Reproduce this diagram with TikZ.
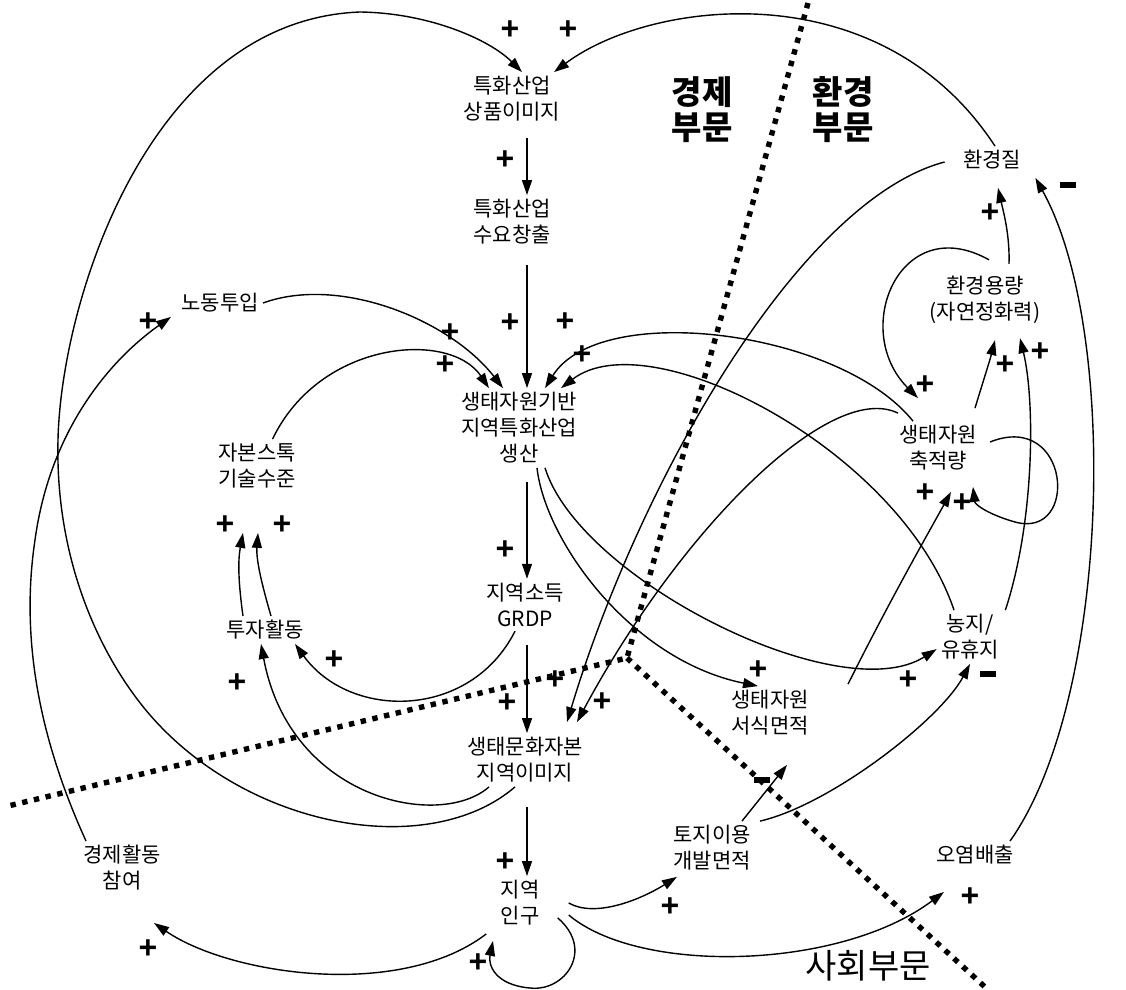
\documentclass[tikz,border=0pt]{standalone}
\usepackage{fontspec}
\newfontfamily\krfont{Noto Sans CJK KR}
\newfontfamily\signfont{Liberation Sans}
\usetikzlibrary{arrows.meta, calc, positioning}
\tikzset{factor/.style={align=center, inner sep=2pt, font=\krfont\fontsize{10.5}{13}\selectfont}}
\tikzset{sector/.style={align=center, inner sep=1pt, font=\krfont\bfseries\fontsize{16.5}{17.5}\selectfont}}
\tikzset{sectorplain/.style={sector, font=\krfont\fontsize{17}{17.5}\selectfont}}
\tikzset{plus/.style={inner sep=0pt, font=\signfont\bfseries\fontsize{16}{16}\selectfont}}
\tikzset{minus/.style={inner sep=0pt}}
\tikzset{edge/.style={draw, line width=0.7pt, -{Triangle[length=7.5pt, width=5pt]}}}
\tikzset{border/.style={draw, line width=2.7pt, dash pattern=on 2.7pt off 3.3pt}}
\newcommand{\minusbar}{\rule{8pt}{2.8pt}}

\begin{document}
\begin{tikzpicture}[x=0.5pt, y=-0.5pt]
        \useasboundingbox (0, 0) rectangle (1126, 990);
        \begin{scope}
            \coordinate (Btop) at (808, 3);
            \coordinate (Jn) at (627, 658);
            \coordinate (Bleft) at (8, 806);
            \coordinate (Bright) at (985, 987);
            \draw [border] (Btop) -- (Jn) -- (Bleft);
            \draw [border] (Jn) -- (Bright);

            \node[factor] (Nimage) at (512, 99) {특화산업\\상품이미지};
            \node[factor] (Ndemand) at (512, 222) {특화산업\\수요창출};
            \node[factor] (Nlabour) at (220, 303) {노동투입};
            \node[factor] (Nprod) at (519, 428) {생태자원기반\\지역특화산업\\생산};
            \node[factor] (Ncapital) at (257, 466) {자본스톡\\기술수준};
            \node[factor] (Nincome) at (525, 605) {지역소득\\GRDP};
            \node[factor] (Ninvest) at (265, 630) {투자활동};
            \node[factor] (Neco) at (525, 760) {생태문화자본\\지역이미지};
            \node[factor] (Npart) at (122, 868) {경제활동\\참여};
            \node[factor] (Npop) at (520, 903) {지역\\인구};
            \node[factor] (Nland) at (712, 848) {토지이용\\개발면적};
            \node[factor] (Npoll) at (975, 855) {오염배출};
            \node[factor] (Nhabitat) at (770, 713) {생태자원\\서식면적};
            \node[factor] (Nfarm) at (970, 637) {농지/\\유휴지};
            \node[factor] (Nstock) at (938, 448) {생태자원\\축적량};
            \node[factor] (Ncapacity) at (985, 300) {환경용량\\(자연정화력)};
            \node[factor] (Nenv) at (992, 160) {환경질};

            \node[sector] (Secon) at (702, 110) {경제\\부문};
            \node[sector] (Senv) at (843, 110) {환경\\부문};
            \node[sectorplain] (Ssoc) at (868, 966) {사회부문};

            \draw [edge] ([xshift=-5pt]Neco.south) .. controls (430, 860) and (250, 830) .. (150, 715) .. controls (100, 657) and (55, 560) .. (58, 440) .. controls (61, 300) and (150, 20) .. (360, 12) .. controls (430, 13) and (490, 40) .. ([xshift=5pt]Nimage.north);
            \draw [edge] ([xshift=1.5pt]Nenv.north) .. controls (880, -30) and (650, 0) .. ([xshift=21pt]Nimage.north);
            \draw [edge, shorten <=6pt] ([xshift=7.5pt]Nimage.south) -- ([xshift=7.5pt]Ndemand.north);
            \draw [edge, shorten <=8pt] ([xshift=7.5pt]Ndemand.south) -- ([xshift=4pt]Nprod.north);
            \draw [edge] (Nlabour.east) .. controls (340, 275) and (450, 320) .. ([xshift=-8pt]Nprod.north);
            \draw [edge] (Ncapital.60) .. controls (320, 340) and (450, 330) .. ([xshift=-15pt]Nprod.north);
            \draw [edge] ([xshift=-12.5pt]Nstock.north) .. controls (840, 330) and (600, 300) .. ([xshift=13pt]Nprod.north);
            \draw [edge] ([xshift=-8pt]Nfarm.north) .. controls (900, 450) and (650, 320) .. ([xshift=21pt]Nprod.north);

            \draw [edge, shorten <=7pt] ([xshift=4pt]Nprod.south) -- ([xshift=1pt]Nincome.north);
            \draw [edge] ([xshift=9pt]Nprod.south) .. controls (545, 540) and (630, 660) .. ([xshift=-6pt]Nhabitat.north);
            \draw [edge] ([xshift=13pt]Nprod.south) .. controls (580, 580) and (840, 710) .. (Nfarm.200);
            \draw [edge, shorten <=7pt] ([xshift=1pt]Nincome.south) -- ([xshift=1pt]Neco.north);
            \draw [edge] ([xshift=-5pt]Nincome.south) .. controls (470, 720) and (350, 720) .. ([xshift=15pt]Ninvest.south);
            \draw [edge] ([xshift=-18pt]Neco.south) .. controls (440, 830) and (290, 800) .. ([xshift=-2pt]Ninvest.south);
            \draw [edge] ([xshift=-11pt]Ninvest.north) .. controls (238, 580) and (238, 560) .. ([xshift=-7pt, yshift=-20pt]Ncapital.south);
            \draw [edge] ([xshift=3pt]Ninvest.north) .. controls (262, 585) and (256, 560) .. ([xshift=0.5pt, yshift=-20pt]Ncapital.south);
            \draw [edge] ([xshift=-18pt]Npart.north) .. controls (40, 740) and (20, 640) .. (35, 540) .. controls (50, 430) and (110, 360) .. ([xshift=-3pt]Nlabour.south west);

            \draw [edge, shorten <=10pt] ([xshift=1pt]Neco.south) -- ([xshift=3.5pt]Npop.north);
            \draw [edge] ([xshift=-5pt, yshift=-2pt]Npop.south west) .. controls (400, 1000) and (230, 975) .. ([xshift=16pt, yshift=-14pt]Npart.south);
            \draw [edge] ([xshift=7pt, yshift=6pt]Npop.south east) .. controls (595, 950) and (565, 992) .. (530, 988) .. controls (495, 985) and (488, 965) .. ([xshift=-13.5pt, yshift=-5.5pt]Npop.south);
            \draw [edge] ([xshift=12.5pt]Npop.east) .. controls (595, 918) and (640, 900) .. ([xshift=4pt, yshift=-1pt]Nland.south west);
            \draw [edge] ([xshift=12.5pt, yshift=-6pt]Npop.east) .. controls (640, 975) and (840, 970) .. ([xshift=6pt, yshift=-11.5pt]Npoll.south west);

            \draw [edge] ([xshift=15pt]Nland.north) -- ([xshift=8.5pt, yshift=-12.5pt]Nhabitat.south);
            \draw [edge] ([xshift=24pt]Nland.north) .. controls (830, 805) and (940, 720) .. (Nfarm.south);
            \draw [edge] ([xshift=-4pt]Npoll.north east) .. controls (1110, 700) and (1120, 330) .. ([xshift=5pt, yshift=-2pt]Nenv.south east);

            \draw [edge] ([xshift=17.5pt, yshift=1pt]Nhabitat.north east) .. controls (890, 600) and (930, 530) .. ([xshift=6.5pt, yshift=-8.5pt]Nstock.south);
            \draw [edge] ([xshift=4.5pt, yshift=3pt]Nstock.east) .. controls (1070, 410) and (1080, 540) .. (1015, 522) .. controls (990, 515) and (975, 505) .. ([xshift=17.5pt, yshift=-6pt]Nstock.south);
            \draw [edge] ([xshift=18.5pt, yshift=6.5pt]Nstock.north) .. controls (982, 385) and (990, 360) .. ([xshift=5pt, yshift=-6pt]Ncapacity.south);
            \draw [edge] ([xshift=1pt]Nfarm.north east) .. controls (1035, 520) and (1035, 400) .. ([xshift=17.5pt, yshift=-5pt]Ncapacity.south);
            \draw [edge] ([xshift=2pt, yshift=6pt]Ncapacity.north) .. controls (900, 210) and (850, 330) .. ([xshift=-10pt, yshift=11.5pt]Nstock.north);
            \draw [edge] ([xshift=12pt, yshift=4pt]Ncapacity.north) .. controls (1010, 235) and (1003, 210) .. ([xshift=3pt, yshift=-7pt]Nenv.south);
            \draw [edge] ([xshift=-7pt, yshift=-1pt]Nenv.west) .. controls (800, 200) and (640, 480) .. ([xshift=21pt, yshift=5.5pt]Neco.north);
            \draw [edge] ([xshift=1.5pt, yshift=4pt]Nstock.north west) .. controls (830, 380) and (680, 530) .. ([xshift=26pt, yshift=5.5pt]Neco.north);

            \node[plus] (P1) at (510, 30) {+};
            \node[plus] (P2) at (568, 30) {+};
            \node[plus] (P3) at (505, 160) {+};
            \node[plus] (P4) at (510, 323) {+};
            \node[plus] (P5) at (450, 333) {+};
            \node[plus] (P6) at (445, 365) {+};
            \node[plus] (P7) at (565, 322) {+};
            \node[plus] (P8) at (582, 355) {+};
            \node[plus] (P9) at (148, 322) {+};
            \node[plus] (P10) at (505, 550) {+};
            \node[plus] (P11) at (334, 660) {+};
            \node[plus] (P12) at (237, 683) {+};
            \node[plus] (P13) at (225, 525) {+};
            \node[plus] (P14) at (282, 525) {+};
            \node[plus] (P15) at (507, 703) {+};
            \node[plus] (P16) at (555, 680) {+};
            \node[plus] (P17) at (602, 702) {+};
            \node[plus] (P18) at (505, 862) {+};
            \node[plus] (P19) at (148, 949) {+};
            \node[plus] (P20) at (478, 963) {+};
            \node[plus] (P21) at (670, 907) {+};
            \node[plus] (P22) at (970, 897) {+};
            \node[plus] (P23) at (758, 670) {+};
            \node[plus] (P24) at (908, 680) {+};
            \node[plus] (P25) at (925, 493) {+};
            \node[plus] (P26) at (962, 503) {+};
            \node[plus] (P27) at (1005, 365) {+};
            \node[plus] (P28) at (1040, 352) {+};
            \node[plus] (P29) at (925, 385) {+};
            \node[plus] (P30) at (990, 213) {+};

            \node[minus] (M1) at (762, 780) {\minusbar};
            \node[minus] (M2) at (988, 674) {\minusbar};
            \node[minus] (M3) at (1068, 185) {\minusbar};
        \end{scope}
\end{tikzpicture}
\end{document}
